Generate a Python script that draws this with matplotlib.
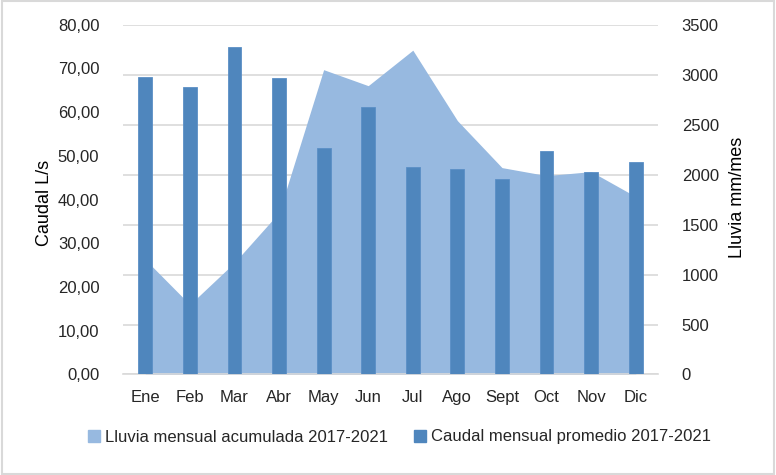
import matplotlib.pyplot as plt
from matplotlib.patches import Rectangle, Patch
from matplotlib.ticker import FuncFormatter

months = ['Ene', 'Feb', 'Mar', 'Abr', 'May', 'Jun', 'Jul', 'Ago', 'Sept', 'Oct', 'Nov', 'Dic']
caudal = [68.1, 65.7, 74.9, 67.8, 51.8, 61.2, 47.4, 46.9, 44.8, 51.1, 46.4, 48.7]
lluvia = [1150, 700, 1120, 1620, 3050, 2890, 3245, 2540, 2070, 1990, 2030, 1780]

left_ticks = [0, 10, 20, 30, 40, 50, 60, 70, 80]
right_ticks = [0, 500, 1000, 1500, 2000, 2500, 3000, 3500]

bar_color = '#4F86BD'
area_color = '#97B9E0'
grid_color = '#D9D9D9'
text_color = '#262626'

plt.rcParams['font.family'] = ['Liberation Sans', 'DejaVu Sans']

fig = plt.figure(figsize=(7.76, 4.75), dpi=100)
ax2 = fig.add_axes([0.1585, 0.2116, 0.6895, 0.7364])
ax = ax2.twinx()

x = list(range(len(months)))

# area (right axis) drawn behind, grid lives on this axis
ax2.fill_between(x, lluvia, 0, color=area_color, linewidth=0, zorder=2)
ax2.set_ylim(0, 3500)
ax2.set_yticks(right_ticks)
ax2.yaxis.tick_right()
ax2.grid(axis='y', color=grid_color, linewidth=1.2, zorder=0)
ax2.set_axisbelow(True)
ax2.set_ylabel('Lluvia mm/mes', fontsize=13, color='black')
ax2.yaxis.set_label_coords(1.164, 0.505)

# bars (left axis) on top
ax.bar(x, caudal, width=0.31, color=bar_color, edgecolor='#5B8FC6', linewidth=0.6, zorder=3)
ax.set_ylim(0, 80)
ax.set_yticks(left_ticks)
ax.yaxis.tick_left()
ax.yaxis.set_major_formatter(FuncFormatter(lambda v, p: f'{v:.2f}'.replace('.', ',')))
ax.set_ylabel('Caudal L/s', fontsize=13, color='black')
ax.yaxis.set_label_coords(-0.162, 0.49)
ax.set_zorder(ax2.get_zorder() + 1)
ax.patch.set_visible(False)

ax2.set_xlim(-0.5, len(months) - 0.5)
ax2.set_xticks(x)
ax2.set_xticklabels(months)

for a in (ax, ax2):
    for s in a.spines.values():
        s.set_visible(False)
    a.tick_params(length=0, labelsize=12, colors=text_color, pad=17)
ax2.tick_params(axis='x', pad=11)
ax2.spines['bottom'].set_visible(True)
ax2.spines['bottom'].set_color(grid_color)
ax2.spines['bottom'].set_linewidth(1.2)

handles = [Patch(color=area_color), Patch(color=bar_color)]
fig.legend(handles, ['Lluvia mensual acumulada 2017-2021', 'Caudal mensual promedio 2017-2021'],
           loc='center', bbox_to_anchor=(0.515, 0.08), ncol=2, frameon=False,
           fontsize=12, handlelength=0.7, handleheight=0.7, columnspacing=1.6,
           handletextpad=0.3, labelcolor=text_color)

fig.patches.append(Rectangle((0.002, 0.003), 0.996, 0.994, transform=fig.transFigure,
                             fill=False, edgecolor='#D9D9D9', linewidth=1.5))

fig.savefig('out.png', dpi=100)
